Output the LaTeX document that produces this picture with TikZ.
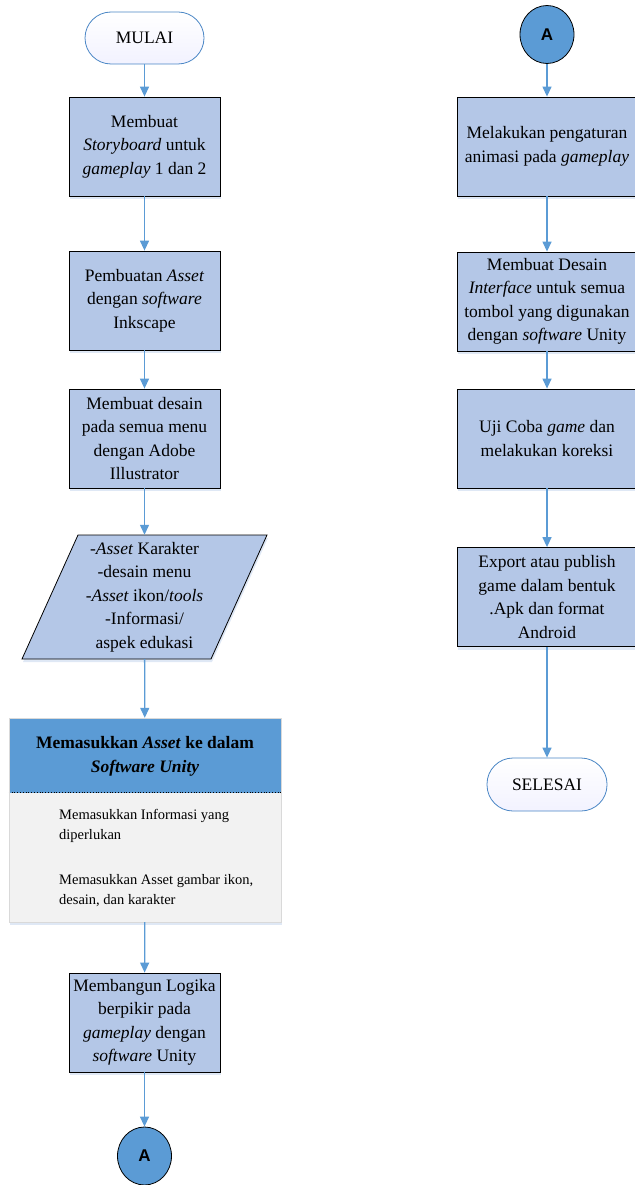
\documentclass[tikz,border=0pt]{standalone}
\usepackage{fontspec}
\setmainfont{Liberation Serif}
\newfontfamily\sansA{Liberation Sans}
\usetikzlibrary{arrows.meta,shapes.geometric,shadows}
\definecolor{boxblue}{HTML}{B4C7E7}
\definecolor{arrblue}{HTML}{5B9BD5}
\definecolor{hdrblue}{HTML}{5B9BD5}
\definecolor{bodygray}{HTML}{F2F2F2}
\definecolor{termline}{HTML}{4A86C5}
\definecolor{shadowblue}{HTML}{C9D8EE}
\begin{document}
\begin{tikzpicture}[x=1pt,y=-1pt,
 shadowed/.style={drop shadow={opacity=0.6, fill=shadowblue, shadow xshift=1pt, shadow yshift=-3pt}},
 proc/.style={draw=black, line width=0.8pt, fill=boxblue, shadowed, minimum width=151pt, minimum height=99pt, inner sep=0pt, align=center, font=\fontsize{17.5}{23.4}\selectfont},
 procr/.style={proc, minimum width=180pt},
 term/.style={draw=termline, line width=0.8pt, rounded corners=26pt, minimum width=119pt, minimum height=52pt, top color=white, bottom color=blue!5, font=\fontsize{17.5}{21}\selectfont},
 conn/.style={ellipse, draw=black, line width=0.8pt, fill=hdrblue, minimum width=54pt, minimum height=58pt, font=\fontsize{17}{19}\sansA\bfseries\selectfont, inner sep=0pt},
 arr/.style={draw=arrblue, line width=1.3pt, -{Triangle[width=9pt,length=10pt]}},
 datatext/.style={minimum width=150pt, minimum height=124pt, inner sep=0pt, align=center, font=\fontsize{17.5}{23.4}\selectfont},
 bodytext/.style={anchor=west, align=left, inner sep=0pt, font=\fontsize{14.5}{20}\selectfont},
]
\useasboundingbox (0,0) rectangle (634,1185);

% left column
\node[term] (mulai) at (144.5,38) {MULAI};
\node[proc] (b1) at (144.5,146.5) {Membuat\\\textit{Storyboard} untuk\\\textit{gameplay} 1 dan 2};
\node[proc] (b2) at (144.5,300.5) {Pembuatan \textit{Asset}\\dengan \textit{software}\\Inkscape};
\node[proc] (b3) at (144.5,438.5) {Membuat desain\\pada semua menu\\dengan Adobe\\Illustrator};

\coordinate (d1) at (78,535);
\coordinate (d2) at (267,535);
\coordinate (d3) at (211,659);
\coordinate (d4) at (22,659);
\fill[shadowblue, opacity=0.6] ([shift={(1,3)}]d1) -- ([shift={(1,3)}]d2) -- ([shift={(1,3)}]d3) -- ([shift={(1,3)}]d4) -- cycle;
\filldraw[fill=boxblue, draw=black, line width=0.8pt] (d1) -- (d2) -- (d3) -- (d4) -- cycle;
\node[datatext] (data) at (144.5,597) {-\textit{Asset} Karakter\\-desain menu\\-\textit{Asset} ikon/\textit{tools}\\-Informasi/\\aspek edukasi};

\node[draw=gray!30, fill=bodygray, shadowed, minimum width=272pt, minimum height=204pt, inner sep=0pt] (unity) at (145,820) {};
\fill[hdrblue] (unity.north west) rectangle ++(272,75);
\draw[black, line width=0.8pt, dotted] ([yshift=-75pt]unity.north west) -- ([yshift=-75pt]unity.north east);
\draw[gray!30] (unity.north west) rectangle (unity.south east);
\node[align=center, inner sep=0pt, font=\bfseries\fontsize{17.5}{24}\selectfont] (hdr) at (145,756) {Memasukkan \textit{Asset} ke dalam\\\textit{Software Unity}};
\node[bodytext] (t1) at (59,826) {Memasukkan Informasi yang\\diperlukan};
\node[bodytext] (t2) at (59,891) {Memasukkan Asset gambar ikon,\\desain, dan karakter};

\node[proc] (b4) at (144.5,1022.5) {Membangun Logika\\berpikir pada\\\textit{gameplay} dengan\\\textit{software} Unity};
\node[conn] (ca1) at (144.5,1156) {A};

% right column
\node[conn] (ca2) at (547,34.5) {A};
\node[procr] (r1) at (547,146.5) {Melakukan pengaturan\\animasi pada \textit{gameplay}};
\node[procr] (r2) at (547,301.5) {Membuat Desain\\\textit{Interface} untuk semua\\tombol yang digunakan\\dengan \textit{software} Unity};
\node[procr] (r3) at (547,438.5) {Uji Coba \textit{game} dan\\melakukan koreksi};
\node[procr] (r4) at (547,597) {Export atau publish\\game dalam bentuk\\.Apk dan format\\Android};
\node[term, minimum width=120pt, minimum height=53pt] (selesai) at (547,784.5) {SELESAI};

% connectors
\draw[arr] (mulai) -- (b1);
\draw[arr] (b1) -- (b2);
\draw[arr] (b2) -- (b3);
\draw[arr] (b3) -- (data);
\draw[arr] (data) -- (unity);
\draw[arr] (unity) -- (b4);
\draw[arr] (b4) -- (ca1);
\draw[arr] (ca2) -- (r1);
\draw[arr] (r1) -- (r2);
\draw[arr] (r2) -- (r3);
\draw[arr] (r3) -- (r4);
\draw[arr] (r4) -- (selesai);
\end{tikzpicture}
\end{document}
